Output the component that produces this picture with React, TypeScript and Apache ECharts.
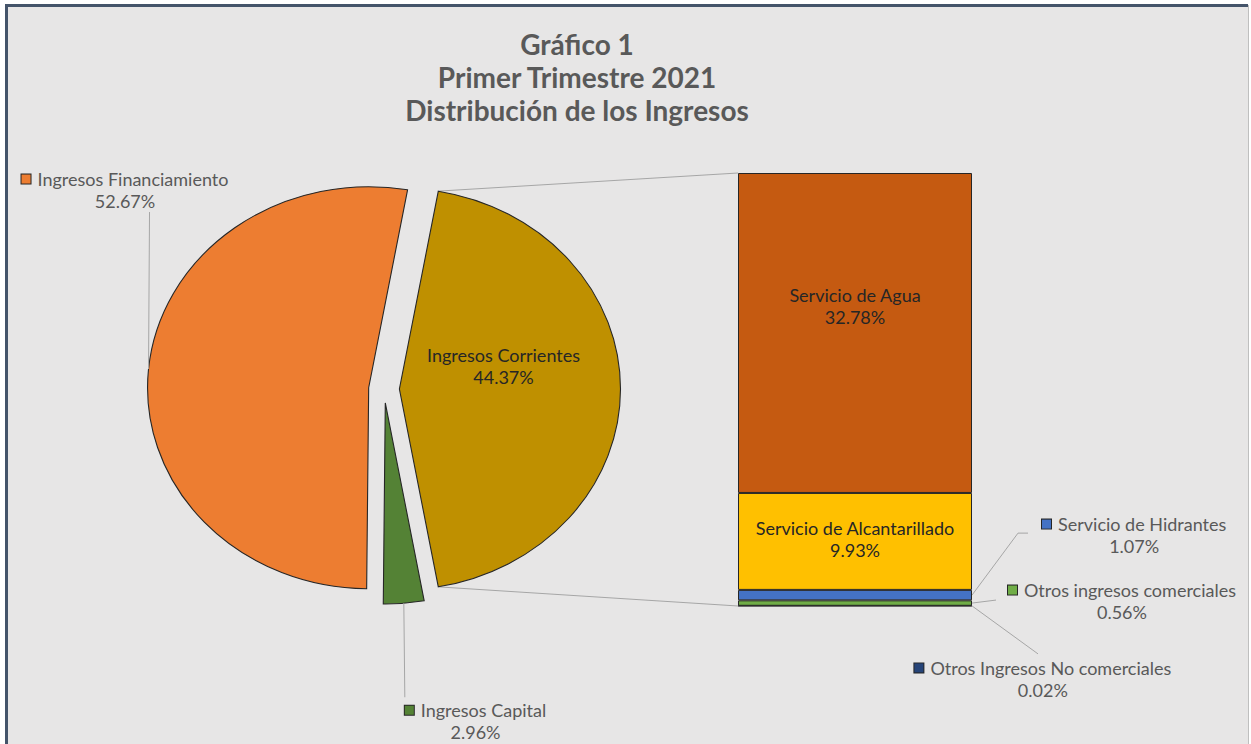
import React, { useEffect, useRef } from 'react';
import * as echarts from 'echarts';

// ---------- data ----------
const titleLines = ['Gráfico 1', 'Primer Trimestre 2021', 'Distribución de los Ingresos'];

const pieNames = ['Ingresos Financiamiento', 'Ingresos Corrientes', 'Ingresos Capital'];
const pieValues = [52.67, 44.37, 2.96];
const pieColors = ['#ED7D31', '#BF9000', '#548235'];
const splitIndex = 1; // slice broken out into the bar

// bottom -> top of the stacked bar
const barNames = [
  'Otros Ingresos No comerciales',
  'Otros ingresos comerciales',
  'Servicio de Hidrantes',
  'Servicio de Alcantarillado',
  'Servicio de Agua',
];
const barValues = [0.02, 0.56, 1.07, 9.93, 32.78];
const barColors = ['#264478', '#70AD47', '#4472C4', '#FFC000', '#C55A11'];

// ---------- layout / style ----------
const FONT = 'Lato, "Noto Sans", sans-serif';
const FS = 18;
const LH = 22;
const OUT_TEXT = '#595959';
const IN_TEXT = '#262626';
const EDGE = '#262626';
const LEADER = '#A6A6A6';
const PIE = { cx: 384, cy: 389, r: 201, sx: 1.1, explode: 14 };
const GRID = { left: 738, top: 173, width: 234, height: 433 };

// label placement relative to each slice's mid-arc point
const pieLabelPlace: any[] = [
  { inside: false, line: [1, -157], text: [-127, -179] },
  { inside: true, text: [-117, -23] },
  { inside: false, line: [1, 94], text: [1, 118] },
];
// label placement relative to the right-middle point of the bar segment
const barLabelPlace: any = {
  'Servicio de Hidrantes': { line: [[46, -62], [56, -62]], text: [70, -60] },
  'Otros ingresos comerciales': { line: [[24, -3]], text: [36, -2] },
  'Otros Ingresos No comerciales': { line: [[66, 48]], text: [-58, 73] },
};
const barInsideOffset: any = {
  'Servicio de Agua': [0, -27],
  'Servicio de Alcantarillado': [0, -2],
};

function pieGeometry() {
  const total = pieValues.reduce((a, b) => a + b, 0);
  // clockwise from the split slice: Corrientes, Capital, Financiamiento
  const ord = [splitIndex, 2, 0];
  const half = (pieValues[splitIndex] / total) * Math.PI;
  let a = -half;
  const geo: any[] = [];
  for (const i of ord) {
    const span = (pieValues[i] / total) * 2 * Math.PI;
    const a0 = a;
    const a1 = a + span;
    const mid = (a0 + a1) / 2;
    const cx = PIE.cx + PIE.sx * PIE.explode * Math.cos(mid);
    const cy = PIE.cy + PIE.explode * Math.sin(mid);
    geo[i] = { a0, a1, mid, cx, cy };
    a = a1;
  }
  return geo;
}

function arcPoint(g: any, ang: number) {
  return [g.cx + PIE.sx * PIE.r * Math.cos(ang), g.cy + PIE.r * Math.sin(ang)];
}

function richFor(color: string, zr: boolean) {
  const c = zr ? 'fill' : 'color';
  return {
    sq: { width: 9, height: 9, backgroundColor: color, borderColor: EDGE, borderWidth: 1 },
    gap: { width: 7 },
    t: { [c]: OUT_TEXT, fontSize: FS, fontFamily: FONT, lineHeight: LH },
    v: { [c]: OUT_TEXT, fontSize: FS, fontFamily: FONT, lineHeight: LH, align: 'center' },
  };
}

export default function App() {
  const ref = useRef<HTMLDivElement>(null);

  useEffect(() => {
    const chart = echarts.init(ref.current!, null, { renderer: 'svg' });
    const geo = pieGeometry();
    const barTotal = barValues.reduce((a, b) => a + b, 0);

    const pieSeries: any = {
      type: 'custom',
      coordinateSystem: 'none',
      data: pieValues,
      z: 3,
      renderItem: (params: any) => {
        const i = params.dataIndex;
        const g = geo[i];
        const children: any[] = [
          {
            type: 'sector',
            x: g.cx,
            y: g.cy,
            scaleX: PIE.sx,
            scaleY: 1,
            shape: { cx: 0, cy: 0, r: PIE.r, r0: 0, startAngle: g.a0, endAngle: g.a1, clockwise: true },
            style: { fill: pieColors[i], stroke: EDGE, lineWidth: 1 },
          },
        ];
        const place = pieLabelPlace[i];
        const [ax, ay] = arcPoint(g, g.mid);
        const pct = pieValues[i].toFixed(2) + '%';
        if (place.inside) {
          children.push({
            type: 'text',
            x: ax + place.text[0],
            y: ay + place.text[1],
            style: {
              text: pieNames[i] + '\n' + pct,
              align: 'center',
              verticalAlign: 'middle',
              fill: IN_TEXT,
              fontSize: FS,
              fontFamily: FONT,
              lineHeight: LH,
            },
          });
        } else {
          children.push({
            type: 'polyline',
            shape: { points: [[ax, ay], [ax + place.line[0], ay + place.line[1]]] },
            style: { stroke: LEADER, lineWidth: 1, fill: null },
          });
          children.push({
            type: 'text',
            x: ax + place.text[0],
            y: ay + place.text[1],
            style: {
              text: `{sq|}{gap|}{t|${pieNames[i]}}\n{v|${pct}}`,
              rich: richFor(pieColors[i], true),
              align: 'left',
              verticalAlign: 'middle',
              fill: OUT_TEXT,
              fontSize: FS,
              fontFamily: FONT,
              lineHeight: LH,
            },
          });
        }
        return { type: 'group', children };
      },
    };

    const barSeries = barNames.map((name, k) => {
      const outside = barLabelPlace[name];
      const pct = barValues[k].toFixed(2) + '%';
      const s: any = {
        type: 'bar',
        name,
        stack: 'total',
        barWidth: '100%',
        data: [barValues[k]],
        itemStyle: { color: barColors[k], borderColor: EDGE, borderWidth: 1 },
        emphasis: { disabled: true },
      };
      if (outside) {
        s.label = {
          show: true,
          position: 'right',
          formatter: `{sq|}{gap|}{t|${name}}\n{v|${pct}}`,
          rich: richFor(barColors[k], false),
          lineHeight: LH,
        };
        s.labelLayout = (p: any) => {
          const r = p.rect;
          const ax = r.x + r.width;
          const ay = r.y + r.height / 2;
          return {
            x: ax + outside.text[0],
            y: ay + outside.text[1],
            align: 'left',
            verticalAlign: 'middle',
          };
        };
      } else {
        s.label = {
          show: true,
          position: 'inside',
          offset: barInsideOffset[name] || [0, 0],
          formatter: `${name}\n${pct}`,
          color: IN_TEXT,
          fontSize: FS,
          fontFamily: FONT,
          lineHeight: LH,
        };
      }
      return s;
    });

    const graphics: any[] = [
      { id: 'bg', type: 'rect', z: -100, shape: { x: 6, y: 5, width: 1242, height: 760 }, style: { fill: '#E7E6E6' } },
      { id: 'bl', type: 'line', z: -99, shape: { x1: 6.5, y1: 5, x2: 6.5, y2: 744 }, style: { stroke: '#44546A', lineWidth: 3 } },
      { id: 'bt', type: 'line', z: -99, shape: { x1: 5, y1: 5.5, x2: 1248, y2: 5.5 }, style: { stroke: '#44546A', lineWidth: 3 } },
      { id: 'br', type: 'line', z: -99, shape: { x1: 1248.5, y1: 5, x2: 1248.5, y2: 744 }, style: { stroke: '#BFBFBF', lineWidth: 1 } },
      ...titleLines.map((t, k) => ({
        id: 'title' + k,
        type: 'text',
        x: 577,
        y: 44 + k * 33,
        style: {
          text: t,
          align: 'center',
          verticalAlign: 'middle',
          fill: OUT_TEXT,
          fontSize: 28,
          fontWeight: 'bold',
          fontFamily: FONT,
        },
      })),
    ];

    chart.setOption({
      animation: false,
      backgroundColor: 'transparent',
      grid: { left: GRID.left, top: GRID.top, width: GRID.width, height: GRID.height },
      xAxis: { type: 'category', data: [''], show: false },
      yAxis: { type: 'value', min: 0, max: barTotal, show: false },
      graphic: { elements: graphics },
      series: [...barSeries, pieSeries],
    });

    // connector lines from the split slice to the bar, and bar leader lines
    const xc = chart.convertToPixel({ xAxisIndex: 0 }, 0) as number;
    const xLeft = xc - GRID.width / 2;
    const xRight = xc + GRID.width / 2;
    const yTop = chart.convertToPixel({ yAxisIndex: 0 }, barTotal) as number;
    const yBot = chart.convertToPixel({ yAxisIndex: 0 }, 0) as number;
    const g = geo[splitIndex];
    const p0 = arcPoint(g, g.a0);
    const p1 = arcPoint(g, g.a1);
    const extra: any[] = [
      { id: 'c0', type: 'line', z: 1, shape: { x1: p0[0], y1: p0[1], x2: xLeft, y2: yTop }, style: { stroke: LEADER, lineWidth: 1 } },
      { id: 'c1', type: 'line', z: 1, shape: { x1: p1[0], y1: p1[1], x2: xLeft, y2: yBot }, style: { stroke: LEADER, lineWidth: 1 } },
    ];
    let cum = 0;
    barNames.forEach((name, k) => {
      const v = barValues[k];
      const place = barLabelPlace[name];
      if (place) {
        const ay = chart.convertToPixel({ yAxisIndex: 0 }, cum + v / 2) as number;
        const pts = [[xRight, ay], ...place.line.map((d: number[]) => [xRight + d[0], ay + d[1]])];
        extra.push({
          id: 'lead' + k,
          type: 'polyline',
          z: 1,
          shape: { points: pts },
          style: { stroke: LEADER, lineWidth: 1, fill: null },
        });
      }
      cum += v;
    });
    chart.setOption({ graphic: { elements: extra } });

    return () => chart.dispose();
  }, []);

  return (
    <div
      ref={ref}
      style={{ position: 'absolute', left: 0, top: 0, width: 1251, height: 744, background: '#fff' }}
    />
  );
}
